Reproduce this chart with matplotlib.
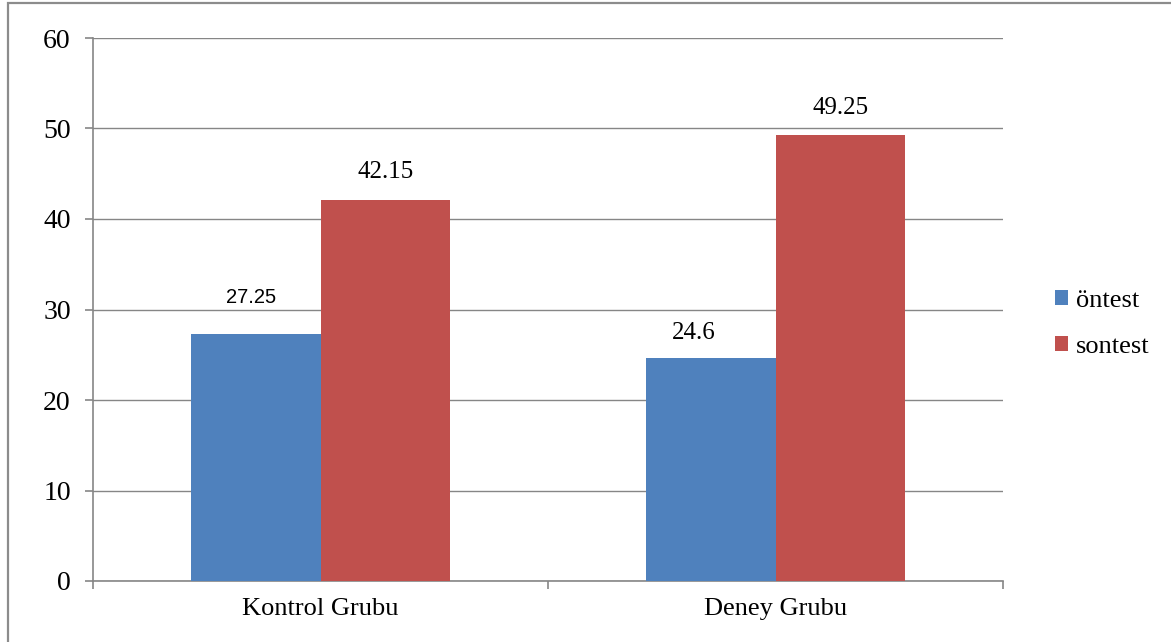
import matplotlib.pyplot as plt
import numpy as np
from matplotlib.patches import Rectangle

groups = ['Kontrol Grubu', 'Deney Grubu']
ontest = [27.25, 24.6]
sontest = [42.15, 49.25]
series_names = ['öntest', 'sontest']

blue = '#4F81BD'
red = '#C0504D'
grid_c = '#868686'

fig = plt.figure(figsize=(11.71, 6.42), dpi=100)
ax = fig.add_axes([93 / 1171, 61 / 642, 910 / 1171, 543 / 642])

x = np.arange(len(groups))
w = 0.2857
b1 = ax.bar(x - w / 2, ontest, w, color=blue, label=series_names[0], zorder=3)
b2 = ax.bar(x + w / 2, sontest, w, color=red, label=series_names[1], zorder=3)

ax.set_xlim(-0.5, 1.5)
ax.set_ylim(0, 60)
ax.set_yticks(range(0, 61, 10))
ax.yaxis.grid(True, color=grid_c, linewidth=1.0, zorder=0)
ax.set_axisbelow(True)
for s in ['top', 'right']:
    ax.spines[s].set_visible(False)
for s in ['left', 'bottom']:
    ax.spines[s].set_color(grid_c)
    ax.spines[s].set_linewidth(1.2)

# boundaries as ticks, category names as minor labels
ax.set_xticks([-0.5, 0.5, 1.5])
ax.set_xticklabels([])
ax.set_xticks(x, minor=True)
ax.set_xticklabels(groups, minor=True, fontfamily='Liberation Serif', fontsize=19)
ax.tick_params(axis='x', which='minor', length=0, pad=12)
ax.tick_params(axis='both', which='major', length=6, width=1.2, color=grid_c)
ax.tick_params(axis='y', labelsize=20, pad=10)
for t in ax.get_yticklabels():
    t.set_fontfamily('Liberation Serif')

# value labels (first one is sans in the original)
ax.annotate('27.25', (x[0] - w / 2, ontest[0]), xytext=(-4, 37), textcoords='offset pixels',
            ha='center', va='center', fontfamily='Liberation Sans', fontsize=14.5)
ax.annotate('42.15', (x[0] + w / 2, sontest[0]), xytext=(0, 28), textcoords='offset pixels',
            ha='center', va='center', fontfamily='Liberation Serif', fontsize=18)
ax.annotate('24.6', (x[1] - w / 2, ontest[1]), xytext=(-17, 25), textcoords='offset pixels',
            ha='center', va='center', fontfamily='Liberation Serif', fontsize=18)
ax.annotate('49.25', (x[1] + w / 2, sontest[1]), xytext=(0, 27), textcoords='offset pixels',
            ha='center', va='center', fontfamily='Liberation Serif', fontsize=18)

fig.legend(handles=[b1, b2], loc='center left', bbox_to_anchor=(1055 / 1171, 1 - 324 / 642),
           frameon=False, prop={'family': 'Liberation Serif', 'size': 19},
           handlelength=0.5, handleheight=0.5, handletextpad=0.3, labelspacing=0.9,
           borderpad=0, borderaxespad=0)

# outer chart border (left and top visible)
fig.patches.append(Rectangle((8 / 1171, -0.05), 1.2, 1 - 3 / 642 + 0.05, transform=fig.transFigure,
                             fill=False, edgecolor='#8c8c8c', linewidth=1.6))

fig.savefig('out.png', dpi=100)
